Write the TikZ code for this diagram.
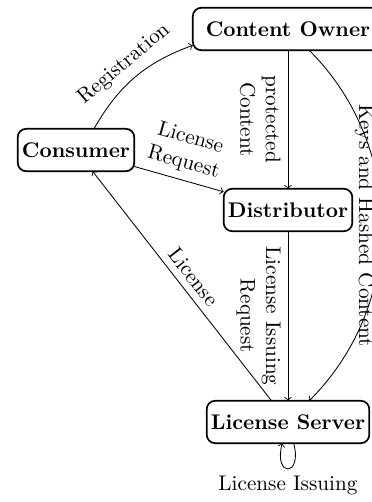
\documentclass[tikz,border=0pt]{standalone}
\begin{document}
\begin{tikzpicture}[x=0.4717pt,y=0.4717pt,
    party/.style = {rectangle,draw,thick,rounded corners,font=\bfseries,minimum height=20pt,inner xsep=2pt,outer sep=0mm}]
\useasboundingbox (0,0) rectangle (371,502);
% the parties
\node[party,minimum width=89.8pt] (owner) at (288,473) {Content Owner};
\node[party] (consumer) at (76,352) {Consumer};
\node[party] (distributor) at (288,292) {Distributor};
\node[party] (server) at (288,80) {License Server};
% what goes between them
\draw[->] (consumer) to[bend left=20] node[sloped,above] {Registration} (owner);
\draw[->] (consumer) -- node[sloped,above,align=center] {License\\Request} (distributor);
\draw[->] (owner) -- node[sloped,below,align=center] {protected\\Content} (distributor);
\draw[->] (owner) to[bend left=45] node[sloped,below] {Keys and Hashed Content} (server);
\draw[->] (distributor) -- node[sloped,below,align=center] {License Issuing\\Request} (server);
\draw[->] (server) -- node[sloped,above] {License} (consumer);
\draw[->] (server) to[loop below] node[below] {License Issuing} (server);
\end{tikzpicture}
\end{document}
